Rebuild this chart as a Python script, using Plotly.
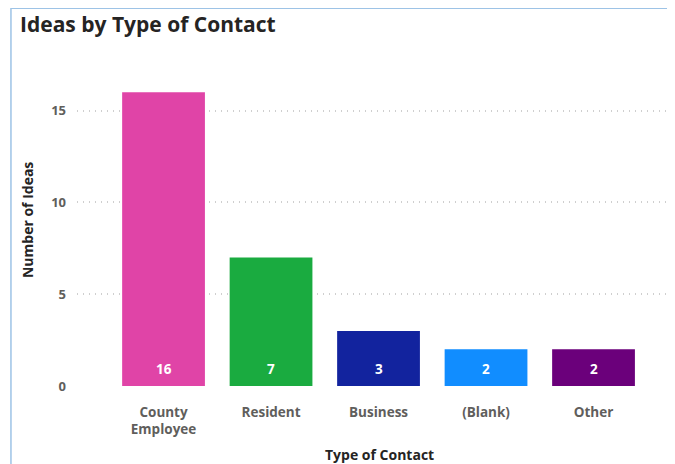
import plotly.graph_objects as go

categories = ["County<br>Employee", "Resident", "Business", "(Blank)", "Other"]
values = [16, 7, 3, 2, 2]
colors = ["#E044A7", "#1AAB40", "#12239E", "#118DFF", "#6B007B"]
y_ticks = [0, 5, 10, 15]

fig = go.Figure()
fig.add_trace(go.Bar(
    x=categories, y=values, marker=dict(color=colors, line=dict(width=0)),
    width=0.77, hoverinfo="skip", showlegend=False,
))

for c, v in zip(categories, values):
    fig.add_annotation(x=c, y=0, text=f"<b>{v}</b>", showarrow=False,
                       yanchor="bottom", yshift=6,
                       font=dict(family="Open Sans", size=13.5, color="white"))

fig.add_annotation(xref="paper", yref="paper", x=-0.084, y=0.532,
                   text="<b>Number of Ideas</b>", textangle=-90, showarrow=False,
                   xanchor="center", yanchor="middle",
                   font=dict(family="Open Sans", size=14, color="#252423"))
fig.add_annotation(xref="paper", yref="paper", x=0.509, y=-0.218,
                   text="<b>Type of Contact</b>", showarrow=False,
                   xanchor="center", yanchor="middle",
                   font=dict(family="Open Sans", size=14, color="#252423"))

fig.add_shape(type="rect", xref="paper", yref="paper",
              x0=-0.111, x1=1.3, y0=-0.35, y1=1.2105,
              line=dict(color="#9DC3E6", width=1.5), layer="below")

fig.update_layout(
    width=675, height=464,
    margin=dict(l=69, r=11, t=66, b=86),
    paper_bgcolor="white", plot_bgcolor="white",
    title=dict(text="<b>Ideas by Type of Contact</b>", x=12/675, xanchor="left",
               y=1 - 17/464, yanchor="middle",
               font=dict(family="Open Sans", size=21, color="#252423")),
    xaxis=dict(range=[-0.805, 4.73], showgrid=False, zeroline=False,
               showline=False, ticks="", ticklabelstandoff=16,
               tickfont=dict(family="Open Sans", size=13.5, color="#605E5C", weight="bold")),
    yaxis=dict(range=[0, 17], tickvals=y_ticks, showgrid=True,
               gridcolor="#CFCFCF", griddash="1px,5px", gridwidth=1.5,
               zeroline=False, showline=False, ticks="", ticklabelstandoff=10,
               tickfont=dict(family="Open Sans", size=13, color="#605E5C", weight="bold")),
    bargap=0.23,
)
fig.write_html("out.html")
